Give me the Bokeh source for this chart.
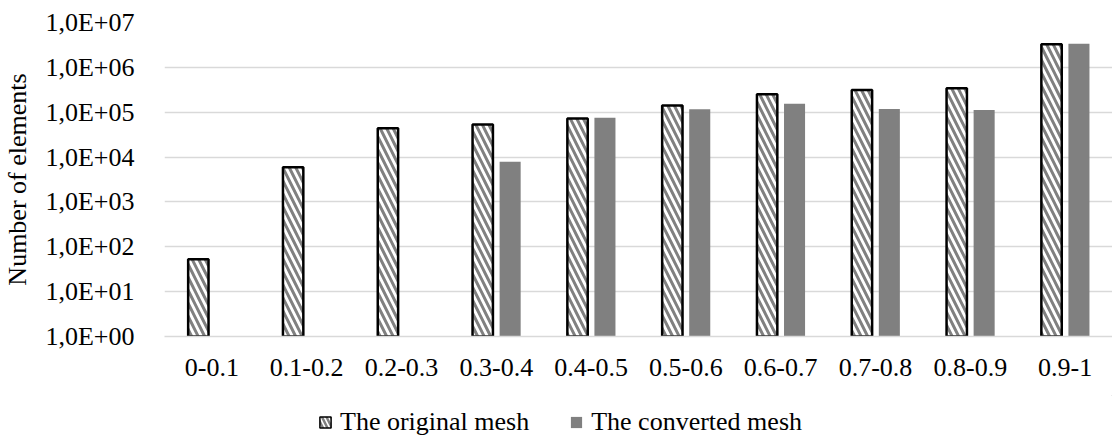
from bokeh.plotting import figure
from bokeh.layouts import column
from bokeh.models import (FactorRange, Range1d, FixedTicker, CustomJSTickFormatter,
                          ColumnDataSource, Legend, LegendItem)
from bokeh.transform import dodge
from bokeh.embed import file_html
from bokeh.resources import INLINE

categories = ["0-0.1", "0.1-0.2", "0.2-0.3", "0.3-0.4", "0.4-0.5",
              "0.5-0.6", "0.6-0.7", "0.7-0.8", "0.8-0.9", "0.9-1"]
original_mesh = [53, 5900, 44000, 53000, 72000, 141000, 252000, 314000, 342000, 3260000]
converted_mesh = [0, 0, 0, 7900, 75500, 116000, 155000, 118000, 112000, 3360000]
series_names = ["The original mesh", "The converted mesh"]
y_ticks = [1, 10, 100, 1000, 10000, 100000, 1000000, 10000000]
y_tick_labels = ["1,0E+00", "1,0E+01", "1,0E+02", "1,0E+03",
                 "1,0E+04", "1,0E+05", "1,0E+06", "1,0E+07"]

FONT = "Liberation Serif"
FS = "26px"
GRID = "#d9d9d9"
ORIG_STYLE = dict(fill_color="white", line_color="black", line_width=2.5,
                  hatch_pattern="\\", hatch_color="#808080", hatch_weight=3, hatch_scale=13)
CONV_STYLE = dict(fill_color="#808080", line_color=None)

src_o = ColumnDataSource(dict(cat=[c for c, v in zip(categories, original_mesh) if v > 0],
                              val=[v for v in original_mesh if v > 0]))
src_c = ColumnDataSource(dict(cat=[c for c, v in zip(categories, converted_mesh) if v > 0],
                              val=[v for v in converted_mesh if v > 0]))

MAIN_H = 395
p = figure(width=1112, height=MAIN_H, x_range=FactorRange(*categories),
           y_axis_type="log", y_range=Range1d(1, 1e7),
           output_backend="svg", toolbar_location=None,
           min_border_left=157, min_border_right=0, min_border_top=22,
           min_border_bottom=MAIN_H - 336)
p.outline_line_color = None
p.background_fill_color = "white"
p.border_fill_color = "white"

p.vbar(x=dodge("cat", -0.143, range=p.x_range), top="val", bottom=1, width=0.215,
       source=src_o, **ORIG_STYLE)
p.vbar(x=dodge("cat", 0.146, range=p.x_range), top="val", bottom=1, width=0.222,
       source=src_c, **CONV_STYLE)

ticker = FixedTicker(ticks=y_ticks, minor_ticks=[])
p.yaxis.ticker = ticker
p.ygrid.ticker = ticker
p.yaxis.formatter = CustomJSTickFormatter(
    args=dict(vals=y_ticks, labels=y_tick_labels),
    code="""
    for (let i = 0; i < vals.length; i++) {
        if (Math.abs(Math.log10(vals[i]) - Math.log10(tick)) < 1e-6) return labels[i];
    }
    return '';
    """)
p.ygrid.grid_line_color = GRID
p.ygrid.grid_line_width = 1.5
p.xgrid.grid_line_color = None

p.yaxis.axis_line_color = None
p.yaxis.major_tick_line_color = None
p.yaxis.minor_tick_line_color = None
p.yaxis.major_label_standoff = 24
p.yaxis.major_label_text_font = FONT
p.yaxis.major_label_text_font_size = FS
p.yaxis.major_label_text_color = "black"
p.yaxis.axis_label = "Number of elements"
p.yaxis.axis_label_text_font = FONT
p.yaxis.axis_label_text_font_size = FS
p.yaxis.axis_label_text_font_style = "normal"
p.yaxis.axis_label_text_color = "black"
p.yaxis.axis_label_standoff = 10

p.xaxis.axis_line_color = GRID
p.xaxis.axis_line_width = 1.5
p.xaxis.major_tick_line_color = None
p.xaxis.minor_tick_line_color = None
p.xaxis.major_label_standoff = 16
p.xaxis.major_label_text_font = FONT
p.xaxis.major_label_text_font_size = FS
p.xaxis.major_label_text_color = "black"

# Legend strip below the chart (its frame is aligned with the chart frame by the column)
LEG_H = 439 - MAIN_H
lf = figure(width=1112, height=LEG_H, x_range=Range1d(0, 1), y_range=Range1d(0, 1),
            output_backend="svg", toolbar_location=None, min_border=0,
            x_axis_location=None, y_axis_location=None)
lf.outline_line_color = None
lf.xgrid.grid_line_color = None
lf.ygrid.grid_line_color = None
offscreen = dict(x=[5], top=[5])
lr1 = lf.vbar(x="x", top="top", bottom=4, width=0.1, source=ColumnDataSource(offscreen), **ORIG_STYLE)
lr2 = lf.vbar(x="x", top="top", bottom=4, width=0.1, source=ColumnDataSource(offscreen), **CONV_STYLE)
lr1.glyph.line_width = 1.5
lr1.glyph.hatch_scale = 9
lr1.glyph.hatch_weight = 2.5
legend = Legend(items=[LegendItem(label=series_names[0], renderers=[lr1]),
                       LegendItem(label=series_names[1], renderers=[lr2])],
                orientation="horizontal", location=(154, 2), padding=0, margin=0,
                spacing=40, glyph_width=14, glyph_height=14, label_standoff=8,
                label_text_font=FONT, label_text_font_size=FS, label_text_color="black",
                border_line_color=None, background_fill_alpha=0)
lf.add_layout(legend, "center")

open("out.html", "w").write(file_html(column(p, lf, spacing=0), INLINE))
